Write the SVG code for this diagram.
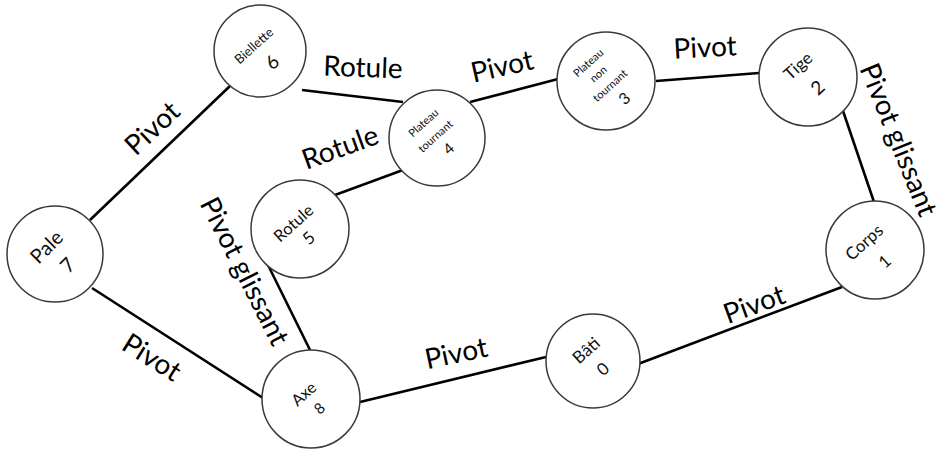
<svg xmlns="http://www.w3.org/2000/svg" width="947" height="451" viewBox="0 0 947 451">
<style>
.node circle{fill:#fff;stroke:#3a3a3a;stroke-width:1.5}
.nt{font-family:Lato,"Liberation Sans",sans-serif;fill:#111;text-anchor:middle}
.edge line{stroke:#000;stroke-width:2.6;stroke-linecap:butt}
.lbl{font-family:Lato,"Liberation Sans",sans-serif;font-size:28px;fill:#000;text-anchor:middle}
</style>
<rect width="947" height="451" fill="#fff"/>
<g id="connectors" class="edge">
<line x1="90" y1="220" x2="230" y2="86"/>
<line x1="302" y1="90" x2="403" y2="102"/>
<line x1="470" y1="102" x2="558" y2="79"/>
<line x1="656" y1="81" x2="759" y2="73"/>
<line x1="842" y1="108" x2="874" y2="202"/>
<line x1="335" y1="195" x2="403" y2="170"/>
<line x1="267" y1="263" x2="310" y2="350"/>
<line x1="92" y1="288" x2="263" y2="398"/>
<line x1="360" y1="402" x2="546" y2="357"/>
<line x1="638" y1="364" x2="842" y2="287"/>
</g>
<g id="labels">
<g transform="translate(152,128) rotate(-43)"><text class="lbl" x="0" y="10">Pivot</text></g>
<g transform="translate(363,67) rotate(2)"><text class="lbl" x="0" y="10">Rotule</text></g>
<g transform="translate(502,66) rotate(-13)"><text class="lbl" x="0" y="10">Pivot</text></g>
<g transform="translate(705,47) rotate(-3)"><text class="lbl" x="0" y="10">Pivot</text></g>
<g transform="translate(898,140) rotate(68)"><text class="lbl" x="0" y="9" font-size="26">Pivot glissant</text></g>
<g transform="translate(340,147) rotate(-20)"><text class="lbl" x="0" y="10">Rotule</text></g>
<g transform="translate(245,271) rotate(63)"><text class="lbl" x="0" y="10">Pivot glissant</text></g>
<g transform="translate(152,357) rotate(32)"><text class="lbl" x="0" y="10">Pivot</text></g>
<g transform="translate(456,353) rotate(-12)"><text class="lbl" x="0" y="10">Pivot</text></g>
<g transform="translate(754,304) rotate(-20)"><text class="lbl" x="0" y="10">Pivot</text></g>
</g>
<g id="node7" class="node"><circle cx="55" cy="254" r="48"/>
<g transform="translate(55,254) rotate(-45)"><text class="nt" x="-1" y="-4" font-size="20">Pale</text><text class="nt" x="1" y="24" font-size="20">7</text></g></g>
<g id="node6" class="node"><circle cx="260" cy="51" r="46"/>
<g transform="translate(260,51) rotate(-42)"><text class="nt" x="-1" y="-3.5" font-size="13">Biellette</text><text class="nt" x="1.5" y="23" font-size="19">6</text></g></g>
<g id="node4" class="node"><circle cx="437" cy="138" r="48"/>
<g transform="translate(437,138) rotate(-42)"><text class="nt" x="0" y="-16.5" font-size="11">Plateau</text><text class="nt" x="0" y="1.5" font-size="11">tournant</text><text class="nt" x="1.5" y="21" font-size="15">4</text></g></g>
<g id="node3" class="node"><circle cx="606" cy="81" r="49"/>
<g transform="translate(606,81) rotate(-42)"><text class="nt" x="-1" y="-21.5" font-size="11">Plateau</text><text class="nt" x="-1" y="-6.5" font-size="11">non</text><text class="nt" x="0" y="10" font-size="11">tournant</text><text class="nt" x="2" y="31" font-size="16">3</text></g></g>
<g id="node2" class="node"><circle cx="808" cy="77" r="49"/>
<g transform="translate(808,77) rotate(-42)"><text class="nt" x="0" y="-9" font-size="17">Tige</text><text class="nt" x="0" y="21" font-size="19">2</text></g></g>
<g id="node5" class="node"><circle cx="300" cy="229" r="49"/>
<g transform="translate(300,229) rotate(-42)"><text class="nt" x="-1" y="-3" font-size="16.5">Rotule</text><text class="nt" x="0.5" y="18.5" font-size="17">5</text></g></g>
<g id="node1" class="node"><circle cx="875" cy="250" r="49"/>
<g transform="translate(875,250) rotate(-42)"><text class="nt" x="-3" y="-7" font-size="17">Corps</text><text class="nt" x="-0.5" y="21" font-size="17">1</text></g></g>
<g id="node0" class="node"><circle cx="593" cy="361" r="47"/>
<g transform="translate(593,361) rotate(-42)"><text class="nt" x="2" y="-6.5" font-size="17">Bâti</text><text class="nt" x="2" y="18.5" font-size="17">0</text></g></g>
<g id="node8" class="node"><circle cx="311" cy="399" r="49"/>
<g transform="translate(311,399) rotate(-42)"><text class="nt" x="-2" y="-3" font-size="16">Axe</text><text class="nt" x="0" y="18" font-size="15">8</text></g></g>
</svg>
